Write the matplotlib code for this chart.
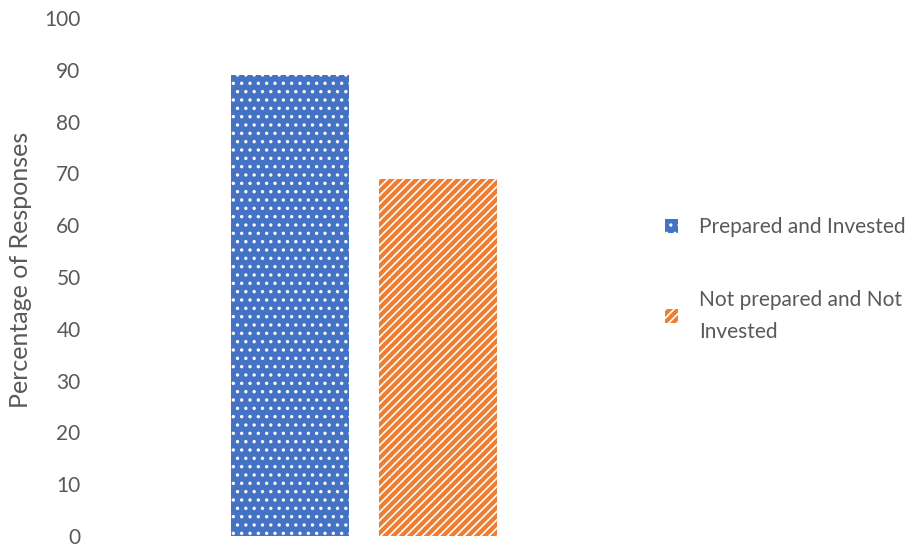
import matplotlib.pyplot as plt
from matplotlib.patches import Patch

plt.rcParams['font.family'] = ['Lato', 'DejaVu Sans']
plt.rcParams['hatch.linewidth'] = 1.2

# values
series = ['Prepared and Invested', 'Not prepared and Not\nInvested']
values = [89, 69]
offsets = [-0.14, 0.14]
yticks = list(range(0, 101, 10))

blue = '#4472c4'
orange = '#ed7d31'
grey = '#595959'

fig = plt.figure(figsize=(9.05, 5.46), dpi=100)
ax = fig.add_axes([0.1105, 0.0185, 0.5834, 0.9485])

ax.bar(offsets[0], values[0], width=0.222, color=blue, edgecolor='white',
       hatch='..', linewidth=0)
ax.bar(offsets[1], values[1], width=0.222, color=orange, edgecolor='white',
       hatch='////', linewidth=0)

ax.set_xlim(-0.5, 0.5)
ax.set_ylim(0, 100)
ax.set_yticks(yticks)
ax.set_xticks([])
for s in ax.spines.values():
    s.set_visible(False)
ax.tick_params(axis='y', length=0, pad=14, labelsize=15, labelcolor=grey)
ax.set_ylabel('Percentage of Responses', fontsize=18, color=grey)
ax.yaxis.set_label_coords(-0.129, 0.514)

handles = [Patch(facecolor=blue, edgecolor='white', hatch='..', linewidth=0),
           Patch(facecolor=orange, edgecolor='white', hatch='////', linewidth=0)]
leg = fig.legend(handles, series, loc='upper left', bbox_to_anchor=(0.714, 0.636),
                 frameon=False, fontsize=15, labelcolor=grey, handlelength=0.62,
                 handleheight=0.62, handletextpad=1.0, labelspacing=2.5)
for t in leg.get_texts():
    t.set_linespacing(1.75)

fig.savefig('out.png', dpi=100)
